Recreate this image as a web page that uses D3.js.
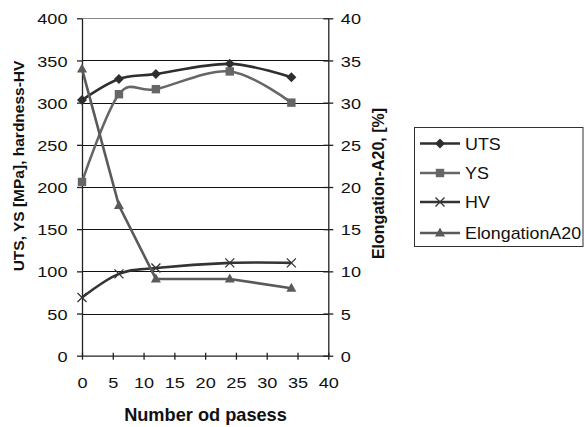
<!DOCTYPE html>
<html><head><meta charset="utf-8">
<script src="https://cdn.jsdelivr.net/npm/d3@7/dist/d3.min.js"></script>
<style>
html,body{margin:0;padding:0;background:#fff;}
svg{display:block;font-family:"Liberation Sans",Arial,sans-serif;}
</style></head>
<body>
<svg id="c" width="584" height="427"></svg>
<script>
const passes = [0, 6, 12, 24, 34];
const uts = [303, 328, 334, 346, 330];
const ys = [206, 310, 316, 337, 300];
const hv = [69, 97, 104, 110, 110];
const elong = [34, 17.8, 9.1, 9.1, 8.0];
const seriesNames = ["UTS", "YS", "HV", "ElongationA20"];
const xTicks = [0, 5, 10, 15, 20, 25, 30, 35, 40];
const yLeftTicks = [0, 50, 100, 150, 200, 250, 300, 350, 400];
const yRightTicks = [0, 5, 10, 15, 20, 25, 30, 35, 40];

const svg = d3.select("#c");
const x = d3.scaleLinear().domain([0, 40]).range([82, 328.3]);
const yL = d3.scaleLinear().domain([0, 400]).range([355.7, 18.3]);
const yR = d3.scaleLinear().domain([0, 40]).range([355.7, 18.3]);
const SX = 1.17;

// gridlines
svg.append("g").selectAll("line").data(yLeftTicks.slice(1)).join("line")
  .attr("x1", x(0)).attr("x2", x(40))
  .attr("y1", d => Math.round(yL(d)) + 0.5).attr("y2", d => Math.round(yL(d)) + 0.5)
  .attr("stroke", d => d === 400 ? "#888" : "#111").attr("stroke-width", 1);

function styleAxis(g) {
  g.select(".domain").attr("stroke", "#222").attr("stroke-width", 1.3);
  g.selectAll(".tick line").attr("stroke", "#222").attr("stroke-width", 1.3);
  g.selectAll(".tick text").attr("fill", "#111").attr("font-size", "15.5px");
}

// left axis
const gL = svg.append("g").attr("transform", `translate(${x(0)},0)`)
  .call(d3.axisLeft(yL).tickValues(yLeftTicks).tickSize(5).tickSizeOuter(0).tickPadding(0));
styleAxis(gL);
gL.selectAll(".tick text").each(function () {
  d3.select(this).attr("x", null).attr("dy", "0.36em").attr("text-anchor", "end")
    .attr("transform", `translate(-14.5,0) scale(${SX},1)`);
});

// right axis
const gR = svg.append("g").attr("transform", `translate(${x(40)},0)`)
  .call(d3.axisRight(yR).tickValues(yRightTicks).tickSize(5).tickSizeOuter(0).tickPadding(0));
styleAxis(gR);
gR.selectAll(".tick line").attr("x1", -5);
gR.selectAll(".tick text").each(function () {
  d3.select(this).attr("x", null).attr("dy", "0.36em").attr("text-anchor", "start")
    .attr("transform", `translate(12.5,0) scale(${SX},1)`);
});

// bottom axis
const gB = svg.append("g").attr("transform", `translate(0,${yL(0)})`)
  .call(d3.axisBottom(x).tickValues(xTicks).tickSize(4).tickSizeOuter(0).tickPadding(0));
styleAxis(gB);
gB.selectAll(".tick line").attr("y1", -3);
gB.selectAll(".tick text").each(function () {
  d3.select(this).attr("y", null).attr("dy", "0.36em").attr("text-anchor", "middle")
    .attr("transform", `translate(0,26.5) scale(${SX},1)`);
});

// titles
svg.append("text").attr("transform", "translate(24,166) rotate(-90)")
  .attr("text-anchor", "middle").attr("font-weight", "bold").attr("font-size", "15.5px")
  .attr("fill", "#111").text("UTS, YS [MPa], hardness-HV");
svg.append("text").attr("transform", "translate(384,183.5) rotate(-90)")
  .attr("text-anchor", "middle").attr("font-weight", "bold").attr("font-size", "16px")
  .attr("fill", "#111").text("Elongation-A20, [%]");
svg.append("text").attr("x", 205.5).attr("y", 421).attr("text-anchor", "middle")
  .attr("font-weight", "bold").attr("font-size", "18.2px").attr("fill", "#111")
  .text("Number od pasess");

const colors = ["#2f2f2f", "#666666", "#333333", "#5a5a5a"];
const series = [
  { name: seriesNames[0], vals: uts, y: yL, color: colors[0], mark: "diamond", curve: d3.curveCardinal.tension(0) },
  { name: seriesNames[1], vals: ys, y: yL, color: colors[1], mark: "square", curve: d3.curveCardinal.tension(0) },
  { name: seriesNames[2], vals: hv, y: yL, color: colors[2], mark: "x", curve: d3.curveCardinal.tension(0) },
  { name: seriesNames[3], vals: elong, y: yR, color: colors[3], mark: "triangle", curve: d3.curveLinear }
];

function drawMarker(g, type, cx, cy, color) {
  if (type === "diamond") {
    g.append("path").attr("d", `M${cx},${cy-5}L${cx+5},${cy}L${cx},${cy+5}L${cx-5},${cy}Z`).attr("fill", color);
  } else if (type === "square") {
    g.append("rect").attr("x", cx-4.2).attr("y", cy-4.2).attr("width", 8.4).attr("height", 8.4).attr("fill", color);
  } else if (type === "x") {
    g.append("path").attr("d", `M${cx-4.5},${cy-4.5}L${cx+4.5},${cy+4.5}M${cx-4.5},${cy+4.5}L${cx+4.5},${cy-4.5}`)
      .attr("stroke", color).attr("stroke-width", 1.3).attr("fill", "none");
  } else if (type === "triangle") {
    g.append("path").attr("d", `M${cx},${cy-5.5}L${cx+5},${cy+3.5}L${cx-5},${cy+3.5}Z`).attr("fill", color);
  }
}

const plot = svg.append("g");
series.forEach(s => {
  const pts = passes.map((p, i) => [x(p), s.y(s.vals[i])]);
  plot.append("path").attr("d", d3.line().curve(s.curve)(pts))
    .attr("fill", "none").attr("stroke", s.color).attr("stroke-width", 2.6);
  const mg = plot.append("g");
  pts.forEach(p => drawMarker(mg, s.mark, p[0], p[1], s.color));
});

// legend
const lg = svg.append("g");
lg.append("rect").attr("x", 414.5).attr("y", 127.5).attr("width", 168.5).attr("height", 119)
  .attr("fill", "#fff").attr("stroke", "#333").attr("stroke-width", 1);
const rowY = [143.5, 173, 202, 233];
series.forEach((s, i) => {
  const yy = rowY[i];
  lg.append("line").attr("x1", 420).attr("x2", 460).attr("y1", yy).attr("y2", yy)
    .attr("stroke", s.color).attr("stroke-width", 2.6);
  drawMarker(lg, s.mark, 440, yy, s.color);
  lg.append("text").attr("x", 0).attr("y", 0).attr("dy", "0.36em")
    .attr("transform", `translate(465,${yy}) scale(1.05,1)`)
    .attr("font-size", "17px").attr("fill", "#111").text(s.name);
});
</script>
</body></html>
